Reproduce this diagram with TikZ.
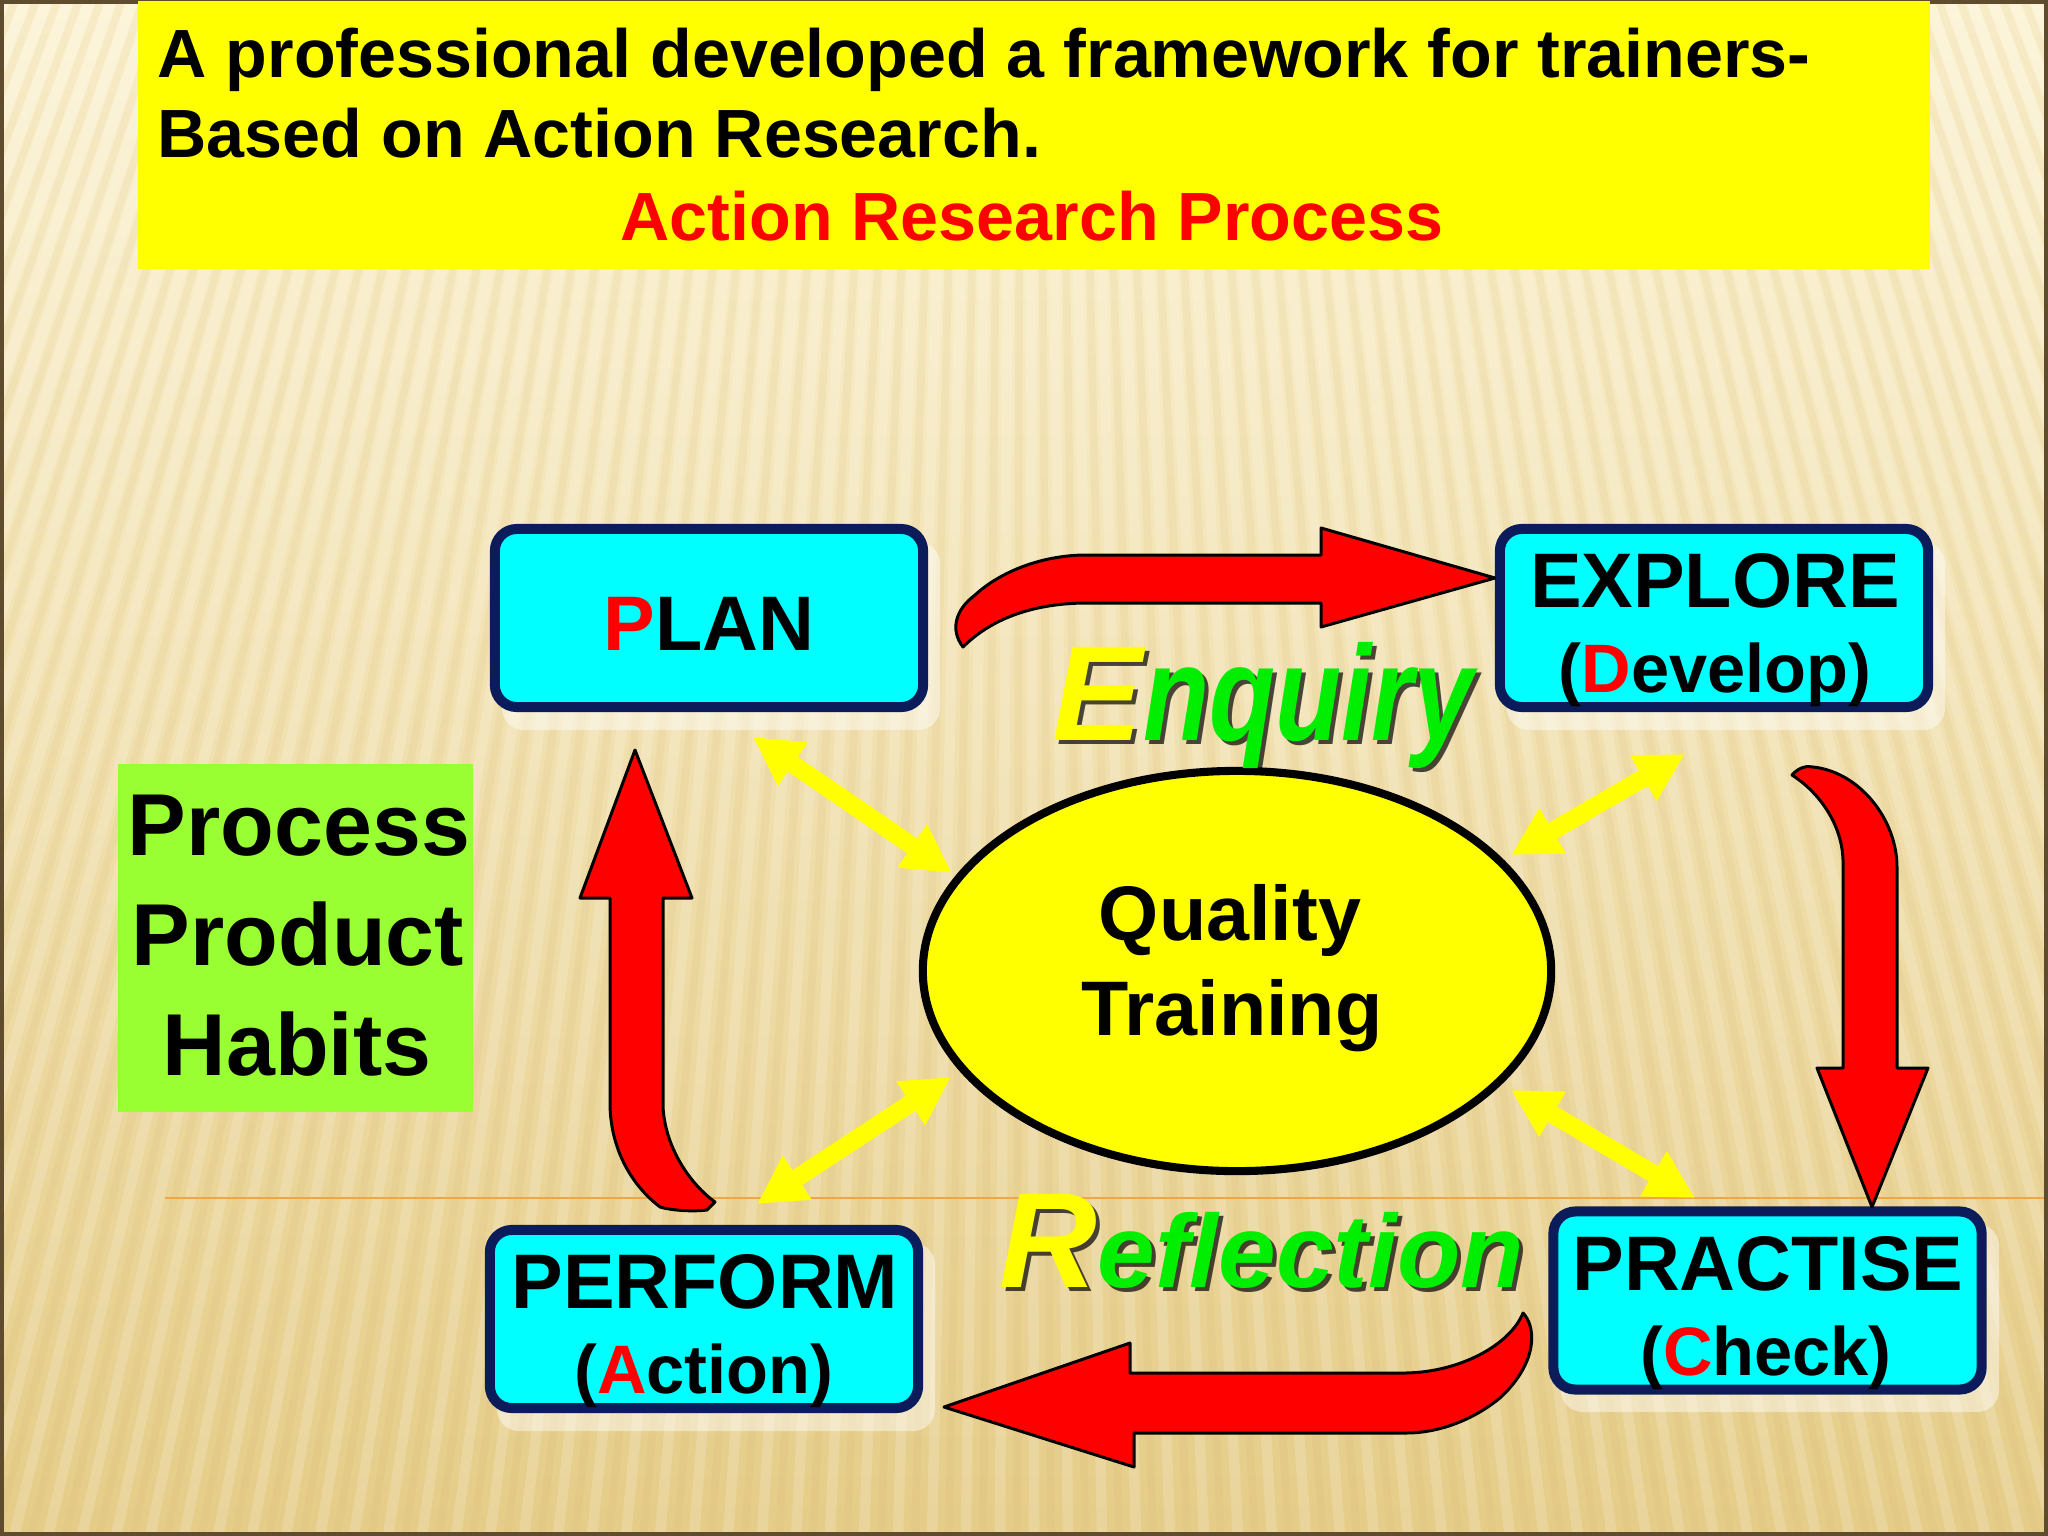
\documentclass[tikz,border=0pt]{standalone}
\usepackage{fontspec}
\setmainfont{Liberation Sans}
\usetikzlibrary{arrows.meta,shapes.geometric}

\definecolor{bgtop}{RGB}{252,243,212}
\definecolor{bgbot}{RGB}{229,204,136}
\definecolor{framec}{RGB}{95,75,45}
\definecolor{titley}{RGB}{255,255,0}
\definecolor{boxfill}{RGB}{0,255,255}
\definecolor{boxline}{RGB}{12,28,90}
\definecolor{hlred}{RGB}{255,0,0}
\definecolor{limebox}{RGB}{153,255,51}
\definecolor{engreen}{RGB}{0,238,0}
\definecolor{orangeline}{RGB}{240,165,70}
\definecolor{stripedark}{RGB}{212,180,105}

\tikzset{
  stagebox/.style={draw=boxline, line width=2.85pt, fill=boxfill, rounded corners=0.22cm,
    minimum width=4.28cm, minimum height=1.78cm, inner sep=0pt},
  stageshadow/.style={fill=white, opacity=0.45, rounded corners=0.22cm,
    minimum width=4.38cm, minimum height=1.88cm, inner sep=0pt},
  boxtxt/.style={font=\bfseries\fontsize{22}{24}\selectfont, anchor=base, inner sep=0pt},
  subtxt/.style={font=\bfseries\fontsize{19.5}{22}\selectfont, anchor=base, inner sep=0pt},
  ppbtxt/.style={font=\bfseries\fontsize{25}{28}\selectfont, anchor=base, inner sep=0pt},
  titletxt/.style={font=\bfseries\fontsize{19.4}{22}\selectfont, inner sep=0pt},
  redarrow/.style={fill=hlred, draw=black, line width=0.85pt, line join=round},
  yarrow/.style={draw=titley, line width=5.1pt,
    {Triangle[length=13.7pt,width=14pt]}-{Triangle[length=13.7pt,width=14pt]}},
  bigword/.style={anchor=base west, inner sep=0pt, font=\bfseries\itshape},
}

\begin{document}
\begin{tikzpicture}[x=0.01cm,y=-0.01cm]
\useasboundingbox (0,0) rectangle (2048,1536);

% background
\shade[top color=bgtop, bottom color=bgbot] (0,0) rectangle (2048,1536);
\begin{scope}
  \clip (0,0) rectangle (2048,1536);
  \foreach \i in {0,...,100} {
    \pgfmathsetmacro{\xb}{-700+34*\i}
    \pgfmathsetmacro{\xt}{1024+(\xb-1024)*0.6286}
    \pgfmathsetmacro{\xbb}{\xb+17}
    \pgfmathsetmacro{\xtt}{1024+(\xbb-1024)*0.6286}
    \draw[white, opacity=0.17, line width=3pt] (\xt,0) -- (\xb,1536);
    \draw[stripedark, opacity=0.12, line width=2.2pt] (\xtt,0) -- (\xbb,1536);
  }
\end{scope}
\draw[orangeline, line width=0.6pt] (165,1198) -- (2048,1198);
\draw[framec, line width=1.2pt] (2,2) rectangle (2046,1534);

% title
\node[fill=titley, minimum width=17.91cm, minimum height=2.68cm, inner sep=0pt, anchor=north west] (title) at (137,0) {};
\node[titletxt, anchor=base west] (t1) at (157,77) {A professional developed a framework for trainers-};
\node[titletxt, anchor=base west] (t2) at (157,157) {Based on Action Research.};
\node[titletxt, anchor=base, text=hlred] (t3) at (1032,240) {Action Research Process};

% green box
\node[fill=limebox, minimum width=3.55cm, minimum height=3.48cm, inner sep=0pt] (ppb) at (295.5,938) {};
\node[ppbtxt] (ppb1) at (299,855) {Process};
\node[ppbtxt] (ppb2) at (298,965) {Product};
\node[ppbtxt] (ppb3) at (297,1075) {Habits};

% box shadows
\node[stageshadow] (planS) at (721,636) {};
\node[stageshadow] (explS) at (1726,636) {};
\node[stageshadow] (pracS) at (1780,1318) {};
\node[stageshadow] (perfS) at (716,1337) {};

% boxes
\node[stagebox] (plan) at (709,618) {};
\node[stagebox] (explore) at (1714,618) {};
\node[stagebox] (practise) at (1767.5,1300.5) {};
\node[stagebox] (perform) at (704,1319) {};

\node[boxtxt] (planT) at (709,650) {{\color{hlred}P}LAN};
\node[boxtxt] (explT) at (1715,607) {EXPLORE};
\node[subtxt] (explT2) at (1715,692) {({\color{hlred}D}evelop)};
\node[boxtxt] (pracT) at (1768,1290) {PRACTISE};
\node[subtxt] (pracT2) at (1766,1375) {({\color{hlred}C}heck)};
\node[boxtxt] (perfT) at (705,1308) {PERFORM};
\node[subtxt] (perfT2) at (704,1393) {({\color{hlred}A}ction)};

% yellow double arrows
\coordinate (y1a) at (753,737);  \coordinate (y1b) at (952,873);
\coordinate (y2a) at (1685,754); \coordinate (y2b) at (1511,855);
\coordinate (y3a) at (951,1077); \coordinate (y3b) at (757,1204);
\coordinate (y4a) at (1511,1090); \coordinate (y4b) at (1695,1198);
\draw[yarrow] (y1a) -- (y1b);
\draw[yarrow] (y2a) -- (y2b);
\draw[yarrow] (y3a) -- (y3b);
\draw[yarrow] (y4a) -- (y4b);

% centre ellipse
\node[draw=black, line width=2.3pt, fill=titley, ellipse, minimum width=6.28cm, minimum height=4.0cm, inner sep=0pt] (qt) at (1237,971) {};
\node[boxtxt] (q1) at (1230,940) {Quality};
\node[boxtxt] (q2) at (1232,1035) {Training};

% red block arrows
\draw[redarrow] (963,647) .. controls (950,630) and (955,610) .. (975,595)
  .. controls (1000,572) and (1040,556) .. (1083,555) -- (1321,555) -- (1321,528)
  -- (1495,578) -- (1321,627) -- (1321,603) -- (1083,603)
  .. controls (1030,604) and (990,620) .. (963,647) -- cycle;

\draw[redarrow] (1792,775) .. controls (1800,766) and (1808,766) .. (1813,767)
  .. controls (1860,772) and (1897,820) .. (1897,867) -- (1897,1068) -- (1928,1068)
  -- (1872,1207) -- (1817,1068) -- (1843,1068) -- (1843,860)
  .. controls (1842,825) and (1820,793) .. (1792,775) -- cycle;

\draw[redarrow] (944,1407) -- (1130,1343) -- (1130,1373) -- (1406,1373)
  .. controls (1460,1372) and (1510,1345) .. (1523,1313)
  .. controls (1535,1325) and (1540,1360) .. (1501,1397)
  .. controls (1480,1415) and (1445,1433) .. (1406,1433)
  -- (1134,1433) -- (1134,1467) -- cycle;

\draw[redarrow] (635,750) -- (692,898) -- (663,898) -- (663,1103)
  .. controls (663,1140) and (685,1180) .. (715,1202) -- (707,1210)
  .. controls (690,1212) and (670,1210) .. (660,1207)
  .. controls (625,1180) and (610,1140) .. (610,1103)
  -- (610,898) -- (580,898) -- cycle;

% Enquiry / Reflection
\node[bigword, text=black, text opacity=0.7, font=\bfseries\itshape\fontsize{38.5}{40}\selectfont] (enqS) at (1056,744) {E\scalebox{0.8}[1]{nquiry}};
\node[bigword, font=\bfseries\itshape\fontsize{38.5}{40}\selectfont] (enq) at (1052,740) {{\color{titley}E}\scalebox{0.8}[1]{\color{engreen}nquiry}};

\node[bigword, text=black, text opacity=0.7] (reflS) at (1003,1291) {{\fontsize{38.5}{40}\selectfont R}{\fontsize{29.5}{32}\selectfont eflection}};
\node[bigword] (refl) at (999,1287) {{\color{titley}\fontsize{38.5}{40}\selectfont R}{\color{engreen}\fontsize{29.5}{32}\selectfont eflection}};
\end{tikzpicture}
\end{document}
